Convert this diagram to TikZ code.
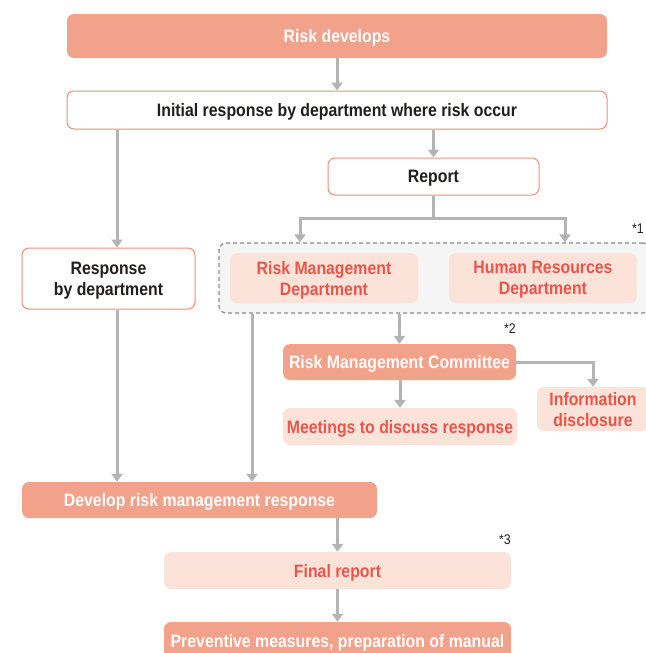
\documentclass[tikz,border=0pt]{standalone}
\usepackage{fontspec}
\setmainfont{Liberation Sans}[FakeStretch=0.88]
\usetikzlibrary{arrows.meta,positioning,calc}
\definecolor{riskpink}{RGB}{242,161,138}
\definecolor{riskline}{RGB}{240,140,122}
\definecolor{riskpale}{RGB}{252,227,218}
\definecolor{riskred}{RGB}{232,85,74}
\definecolor{flowgray}{RGB}{180,180,180}
\definecolor{textdark}{RGB}{35,30,30}

\begin{document}
\begin{tikzpicture}[x=1pt,y=-1pt,
                base/.style={rounded corners=7pt,align=center,inner sep=0pt,text depth=0pt,font=\bfseries\fontsize{18}{21}\selectfont},
                fillbox/.style={base,fill=riskpink,text=white},
                linebox/.style={base,draw=riskline,line width=1pt,fill=white,text=textdark},
                palebox/.style={base,fill=riskpale,text=riskred},
                arr/.style={-{Triangle[width=11pt,length=8pt]},draw=flowgray,line width=3pt},
                note/.style={font=\fontsize{14}{16}\selectfont,text=textdark}
            ]
                \useasboundingbox (0,0) rectangle (645,653);
                \node[fillbox,minimum width=540pt,minimum height=44pt] (rise) at (337,36) {Risk develops};
                \node[linebox,minimum width=540pt,minimum height=38pt] (init) at (337,110) {Initial response by department where risk occur};
                \node[linebox,minimum width=211pt,minimum height=37pt] (report) at (433.5,176.5) {Report};
                \node[linebox,minimum width=173pt,minimum height=61pt] (resp) at (108.5,278.5) {Response\\by department};
                % group of the two departments
                \node[draw=black!45,dashed,dash pattern=on 4pt off 3pt,line width=1.2pt,fill=black!4,rounded corners=7pt,minimum width=431pt,minimum height=70pt] (grp) at (434.5,278) {};
                \node[palebox,minimum width=188pt,minimum height=50pt] (rmd) at (324,278) {Risk Management\\Department};
                \node[palebox,minimum width=188pt,minimum height=50pt] (hrd) at (543,278) {Human Resources\\Department};
                \node[fillbox,minimum width=233pt,minimum height=36pt] (rmc) at (399.5,362) {Risk Management Committee};
                \node[palebox,minimum width=234pt,minimum height=37pt] (meet) at (400,426.5) {Meetings to discuss response};
                \node[palebox,minimum width=112pt,minimum height=44pt] (info) at (593,409) {Information\\disclosure};
                \node[fillbox,minimum width=355pt,minimum height=36pt] (dev) at (199.5,500) {Develop risk management response};
                \node[palebox,minimum width=347pt,minimum height=37pt] (final) at (337.5,570.5) {Final report};
                \node[fillbox,minimum width=347pt,minimum height=38pt] (prev) at (337.5,641) {Preventive measures, preparation of manual};
                % notes
                \node[note,anchor=east,inner sep=1pt] (n1) at (645,229) {*1};
                \node[note] (n2) at (510,329) {*2};
                \node[note] (n3) at (505,540) {*3};
                % connectors
                \draw[arr] (rise) -- (init);
                \draw[arr] (report.north |- init.south) -- (report.north);
                \draw[arr] ([xshift=8.5pt]resp.north |- init.south) -- ([xshift=8.5pt]resp.north);
                \draw[arr] (report.south) -- ++(0,23) coordinate (fork) -| ([xshift=-24pt]rmd.north |- grp.north);
                \draw[arr] (fork) -| ([xshift=22pt]hrd.north |- grp.north);
                \draw[arr] ([xshift=8.5pt]resp.south) -- ([xshift=8.5pt]resp.south |- dev.north);
                \draw[arr] ([xshift=-72pt]rmd.south |- grp.south) -- ([xshift=-72pt]rmd.south |- dev.north);
                \draw[arr] (rmc.north |- grp.south) -- (rmc.north);
                \draw[arr] (meet.north |- rmc.south) -- (meet.north);
                \draw[arr] (rmc.east) -| (info.north);
                \draw[arr] (final.north |- dev.south) -- (final.north);
                \draw[arr] (final) -- (prev);
            \end{tikzpicture}
\end{document}
